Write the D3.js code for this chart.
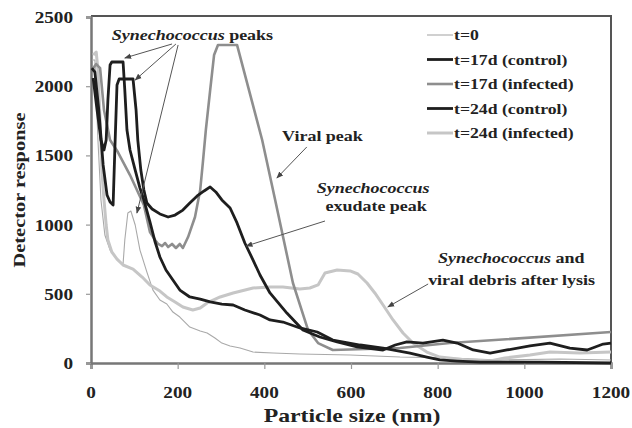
<!DOCTYPE html>
<html>
<head>
<meta charset="utf-8">
<script src="https://cdn.jsdelivr.net/npm/d3@7"></script>
<style>
  html, body { margin: 0; padding: 0; background: #fff; }
  svg { display: block; }
  text { font-family: "Liberation Serif", "Times New Roman", serif; font-weight: bold; fill: #222; }
</style>
</head>
<body>
<svg id="chart" width="632" height="428"></svg>
<script>
// Particle size distributions (nm vs detector response)
const seriesNames = ["t=0", "t=17d (control)", "t=17d (infected)", "t=24d (control)", "t=24d (infected)"];
const xTicks = [0, 200, 400, 600, 800, 1000, 1200];
const yTicks = [0, 500, 1000, 1500, 2000, 2500];

const sizeT0 = [2, 9, 16, 23, 32, 44, 58, 74, 78, 85, 92, 102, 113, 129, 143, 159, 175, 189, 205, 228, 252, 268, 286, 302, 321, 344, 374, 420, 482, 598, 713, 828, 944, 1082, 1200];
const respT0 = [2189, 2189, 1611, 1178, 925, 816, 759, 715, 889, 1084, 1098, 997, 816, 657, 527, 455, 426, 368, 332, 260, 231, 217, 181, 144, 123, 108, 79, 72, 65, 58, 43, 36, 22, 29, 22];

const size17c = [5, 14, 23, 30, 35, 39, 44, 48, 74, 78, 83, 90, 102, 113, 122, 136, 148, 159, 173, 189, 205, 228, 252, 275, 302, 328, 355, 390, 413, 443, 482, 522, 558, 621, 674, 736, 775, 805, 845, 898, 1036, 1200];
const resp17c = [2059, 1828, 1611, 1539, 1611, 1900, 2153, 2175, 2175, 1972, 1683, 1539, 1394, 1264, 1178, 1019, 874, 766, 672, 600, 527, 477, 462, 441, 426, 419, 383, 347, 311, 296, 253, 224, 166, 130, 108, 72, 43, 22, 14, 7, 7, 0];

const size17i = [2, 12, 21, 30, 44, 62, 90, 122, 136, 148, 155, 164, 171, 178, 187, 196, 205, 212, 224, 240, 252, 258, 265, 275, 284, 293, 337, 395, 425, 466, 501, 524, 558, 713, 828, 1200];
const resp17i = [2117, 2160, 2131, 1828, 1611, 1524, 1358, 1142, 946, 889, 860, 845, 867, 838, 860, 831, 860, 831, 910, 1055, 1250, 1445, 1683, 1972, 2225, 2298, 2298, 1611, 1178, 578, 238, 144, 94, 108, 144, 224];

const size24c = [2, 9, 18, 28, 37, 44, 51, 55, 60, 65, 97, 104, 108, 115, 122, 129, 141, 159, 178, 194, 212, 228, 245, 261, 275, 288, 302, 321, 337, 355, 374, 390, 413, 452, 489, 528, 568, 614, 674, 702, 729, 766, 812, 845, 882, 921, 960, 1013, 1059, 1105, 1145, 1182, 1200];
const resp24c = [2131, 2102, 1828, 1431, 1214, 1163, 1142, 1539, 2009, 2052, 2052, 1828, 1611, 1394, 1250, 1156, 1113, 1077, 1055, 1069, 1105, 1156, 1207, 1243, 1272, 1236, 1178, 1120, 1012, 867, 744, 636, 506, 361, 238, 188, 152, 116, 94, 130, 152, 144, 166, 144, 94, 72, 94, 123, 144, 108, 94, 137, 144];

const size24i = [5, 12, 16, 21, 25, 30, 35, 39, 48, 60, 74, 97, 118, 136, 159, 175, 194, 212, 235, 252, 268, 298, 328, 374, 413, 443, 482, 505, 524, 540, 568, 598, 616, 637, 655, 674, 697, 720, 743, 775, 805, 868, 921, 955, 1013, 1059, 1128, 1200];
const resp24i = [2225, 2247, 2117, 1756, 1394, 1178, 997, 889, 802, 751, 708, 679, 621, 564, 520, 477, 441, 405, 383, 397, 434, 477, 506, 542, 549, 549, 535, 542, 564, 650, 672, 665, 643, 578, 506, 419, 311, 217, 144, 79, 43, 22, 14, 36, 58, 79, 72, 79];

const W = 632, H = 428;
const M = { left: 91, right: 21, top: 17, bottom: 65 };
const svg = d3.select("#chart");

const x = d3.scaleLinear().domain([0, 1200]).range([M.left, W - M.right]);
const y = d3.scaleLinear().domain([0, 2500]).range([H - M.bottom, M.top]);

const SX = 1.2; // horizontal stretch of the serif lettering

function label(g, px, py, str, size, anchor, sx) {
  return g.append("text")
    .attr("transform", `translate(${px},${py}) scale(${sx || SX},1)`)
    .attr("font-size", size)
    .attr("text-anchor", anchor || "start")
    .text(str);
}

// frame (top and right)
svg.append("path")
  .attr("d", `M${x(0)},${y(2500) - 1}H${x(1200)}V${y(0)}`)
  .attr("fill", "none").attr("stroke", "#555").attr("stroke-width", 2);

// axes
const xAxis = svg.append("g").attr("transform", `translate(0,${y(0)})`)
  .call(d3.axisBottom(x).tickValues(xTicks).tickSize(6).tickFormat(d3.format("d")));
const yAxis = svg.append("g").attr("transform", `translate(${x(0)},0)`)
  .call(d3.axisLeft(y).tickValues(yTicks).tickSize(5).tickFormat(d3.format("d")));
[xAxis, yAxis].forEach(a => {
  a.select(".domain").attr("stroke", "#777").attr("stroke-width", 2.5);
  a.selectAll(".tick line").attr("stroke", "#999").attr("stroke-width", 1.2);
  a.selectAll(".tick text").remove();
});
xTicks.forEach(v => label(svg, x(v), 398, String(v), 16, "middle"));
yTicks.forEach(v => label(svg, 73, y(v) + 6, String(v), 16, "end"));

// axis titles
label(svg, 352, 422, "Particle size (nm)", 19, "middle", 1.25);
svg.append("text")
  .attr("transform", `translate(25,${(M.top + H - M.bottom) / 2}) rotate(-90) scale(${SX},1)`)
  .attr("font-size", 17).attr("text-anchor", "middle").text("Detector response");

// series
const styles = [
  { color: "#a9a9a9", width: 1.1 },
  { color: "#1e1e1e", width: 2.8 },
  { color: "#8e8e8e", width: 2.6 },
  { color: "#1e1e1e", width: 2.8 },
  { color: "#c6c6c6", width: 3 }
];
const seriesData = [
  [sizeT0, respT0], [size17c, resp17c], [size17i, resp17i], [size24c, resp24c], [size24i, resp24i]
];
const line = d3.line().x(d => x(d[0])).y(d => y(d[1]));
const drawOrder = [0, 4, 2, 1, 3];
drawOrder.forEach(i => {
  const [xs, ys] = seriesData[i];
  svg.append("path")
    .datum(d3.zip(xs, ys))
    .attr("d", line)
    .attr("fill", "none")
    .attr("stroke", styles[i].color)
    .attr("stroke-width", styles[i].width)
    .attr("stroke-linejoin", "round");
});

// legend
const lg = svg.append("g");
seriesNames.forEach((name, i) => {
  const ly = 35 + i * 24.5;
  lg.append("line").attr("x1", 427).attr("x2", 453).attr("y1", ly).attr("y2", ly)
    .attr("stroke", styles[i].color).attr("stroke-width", styles[i].width);
  label(lg, 454, ly + 5, name, 15, "start", 1.18);
});

// annotations with arrows
svg.append("defs").append("marker")
  .attr("id", "head").attr("viewBox", "0 0 10 10").attr("refX", 9).attr("refY", 5)
  .attr("markerWidth", 7).attr("markerHeight", 7).attr("orient", "auto-start-reverse")
  .append("path").attr("d", "M0,1L10,5L0,9Z").attr("fill", "#444");

function arrow(x1, y1, x2, y2) {
  svg.append("line")
    .attr("x1", x(x1)).attr("y1", y(y1)).attr("x2", x(x2)).attr("y2", y(y2))
    .attr("stroke", "#555").attr("stroke-width", 1).attr("marker-end", "url(#head)");
}

function richLabel(dx, dy, parts) {
  const t = svg.append("text")
    .attr("transform", `translate(${x(dx)},${y(dy)}) scale(${SX},1)`)
    .attr("font-size", 15);
  parts.forEach(p => {
    const s = t.append("tspan").text(p.text);
    if (p.italic) s.attr("font-style", "italic");
  });
  return t;
}

richLabel(48, 2334, [{ text: "Synechococcus", italic: true }, { text: "  peaks" }]);
arrow(187, 2305, 78, 2204);
arrow(196, 2305, 102, 2045);
arrow(201, 2298, 106, 1084);

richLabel(441, 1604, [{ text: "Viral peak" }]);
arrow(498, 1561, 429, 1337);

richLabel(651, 1228, [{ text: "Synechococcus", italic: true }]).attr("text-anchor", "middle");
richLabel(658, 1098, [{ text: "exudate peak" }]).attr("text-anchor", "middle");
arrow(540, 1026, 358, 845);

richLabel(801, 723, [{ text: "Synechococcus", italic: true }, { text: "  and" }]);
richLabel(778, 564, [{ text: "viral debris after lysis" }]);
arrow(778, 571, 685, 405);
</script>
</body>
</html>
